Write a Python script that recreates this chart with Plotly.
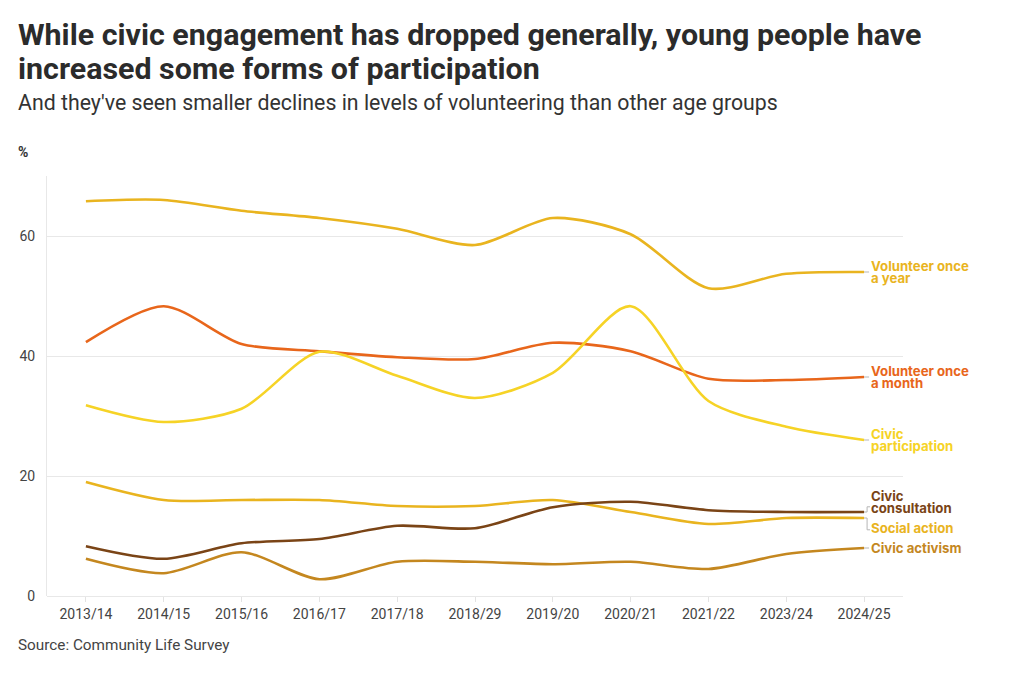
import plotly.graph_objects as go

years = ["2013/14", "2014/15", "2015/16", "2016/17", "2017/18", "2018/29",
         "2019/20", "2020/21", "2021/22", "2023/24", "2024/25"]

volunteer_year = [65.8, 66.0, 64.2, 63.0, 61.2, 58.5, 63.0, 60.3, 51.3, 53.7, 54.0]
volunteer_month = [42.3, 48.3, 42.0, 40.8, 39.8, 39.5, 42.2, 40.8, 36.2, 36.0, 36.5]
civic_participation = [31.8, 29.0, 31.2, 40.7, 36.7, 33.0, 37.2, 48.3, 32.5, 28.2, 26.0]
social_action = [19.0, 16.0, 16.0, 16.0, 15.0, 15.0, 16.0, 14.0, 12.0, 13.0, 13.0]
civic_consultation = [8.3, 6.2, 8.8, 9.5, 11.7, 11.3, 14.8, 15.7, 14.3, 14.0, 14.0]
civic_activism = [6.2, 3.8, 7.3, 2.8, 5.7, 5.7, 5.3, 5.7, 4.5, 7.0, 8.0]

series = [
    # name, values, colour, label lines, label y shifts (px), connector style
    ("Volunteer once a year", volunteer_year, "#E9B41F", ["Volunteer once", "a year"], [6, -6], "flat"),
    ("Volunteer once a month", volunteer_month, "#E8661B", ["Volunteer once", "a month"], [6, -6], "flat"),
    ("Civic participation", civic_participation, "#F6D326", ["Civic", "participation"], [6, -6], "flat"),
    ("Social action", social_action, "#E9B41F", ["Social action"], [-10], "down"),
    ("Civic consultation", civic_consultation, "#7A4416", ["Civic", "consultation"], [16, 4], "up"),
    ("Civic activism", civic_activism, "#C4871F", ["Civic activism"], [0], "flat"),
]

fig = go.Figure()
font_main = "Roboto"
last = len(years) - 1
PX_PER_UNIT = 6.0  # plot height 420px over 70 units

for name, vals, col, lines, shifts, conn in series:
    fig.add_trace(go.Scatter(
        x=years, y=vals, mode="lines", name=name,
        line=dict(color=col, width=2.6, shape="spline", smoothing=0.8),
        hoverinfo="x+y+name",
    ))
    for txt, sh in zip(lines, shifts):
        fig.add_annotation(
            x=years[-1], y=vals[-1], xref="x", yref="y",
            text="<b>" + txt + "</b>", showarrow=False,
            xanchor="left", yanchor="middle", xshift=6, yshift=sh,
            borderpad=0,
            font=dict(family="Inter", size=13.2, color=col),
        )
    v = vals[-1]
    if conn == "flat":
        path = f"M0,{v} L5,{v}"
    else:
        tip = v + (shifts[-1] / PX_PER_UNIT) + (0.2 if conn == "up" else -0.3)
        path = f"M0,{v} L3,{v} L3,{tip} L6,{tip}"
    fig.add_shape(
        type="path", path=path, xref="x", yref="y",
        xsizemode="pixel", xanchor=last,
        line=dict(color="#b5b5b5", width=1),
    )

# page has an 8px body margin: offsets compensate
L, T, W = 39, 168, 1022
PW = W - L - 127

fig.update_layout(
    width=W, height=678,
    paper_bgcolor="white", plot_bgcolor="white",
    margin=dict(l=L, r=127, t=T, b=90),
    showlegend=False,
    font=dict(family=font_main, color="#444444"),
)

fig.update_xaxes(
    type="category", range=[-0.5, 10.5],
    showgrid=False, showline=False, zeroline=False,
    ticks="outside", ticklen=5, tickcolor="#e3e3e3",
    tickfont=dict(family=font_main, size=14, color="#444444"),
)
fig.update_yaxes(
    range=[0, 70], tickvals=[0, 20, 40, 60],
    showgrid=True, gridcolor="#e8e8e8", gridwidth=1,
    zeroline=True, zerolinecolor="#e8e8e8", zerolinewidth=1,
    showline=True, linecolor="#e8e8e8", linewidth=1,
    ticks="", ticklabelstandoff=8,
    tickfont=dict(family=font_main, size=14, color="#444444"),
)

xl = (8 - L) / PW

def top_text(txt, page_y, size, color):
    fig.add_annotation(
        xref="paper", yref="paper", x=xl, y=1, yshift=176 - page_y,
        text=txt, showarrow=False, xanchor="left", yanchor="middle", align="left",
        font=dict(family=font_main, size=size, color=color),
    )

top_text("<b>While civic engagement has dropped generally, young people have</b>", 34, 30.4, "#2b2b2b")
top_text("<b>increased some forms of participation</b>", 68, 30.4, "#2b2b2b")
top_text("And they've seen smaller declines in levels of volunteering than other age groups", 102, 21.3, "#333333")
top_text("<b>%</b>", 152, 14, "#333333")

fig.add_annotation(
    xref="paper", yref="paper", x=xl, y=0, yshift=-(645 - 596),
    text="Source: Community Life Survey", showarrow=False,
    xanchor="left", yanchor="middle",
    font=dict(family=font_main, size=15.3, color="#444444"),
)

fig.write_html("out.html")
